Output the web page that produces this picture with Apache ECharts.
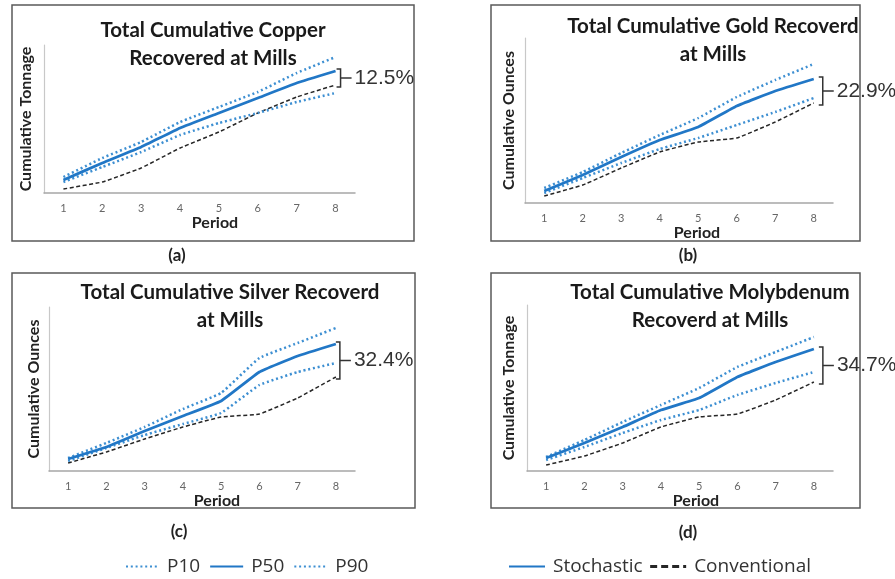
<!DOCTYPE html>
<html><head><meta charset="utf-8">
<script src="https://cdn.jsdelivr.net/npm/echarts@6/dist/echarts.min.js"></script>
<style>html,body{margin:0;padding:0;background:#fff}#c{width:895px;height:579px}</style>
</head><body><div id="c"></div>
<script>
// ---------- data ----------
const periods = ['1', '2', '3', '4', '5', '6', '7', '8'];

const copperP10  = [11, 26, 41, 58, 70, 80, 91, 100];
const copperP50  = [13, 30, 46, 65, 80, 95, 110, 122];
const copperP90  = [16, 35, 51, 71, 86, 101, 120, 136];
const copperConv = [4, 11, 25, 45, 61, 80, 96, 108];

const goldP10  = [10, 25, 40, 54, 65, 78, 91, 105];
const goldP50  = [12, 28, 46, 63, 76, 97, 112, 124];
const goldP90  = [15, 31, 50, 68, 85, 106, 123, 139];
const goldConv = [7, 18, 35, 51, 61, 65, 81, 100];

const silverP10  = [10, 23, 36, 47, 58, 86, 99, 108];
const silverP50  = [12, 24, 40, 55, 70, 99, 115, 127];
const silverP90  = [13, 28, 44, 62, 78, 113, 128, 143];
const silverConv = [8, 19, 32, 44, 54, 57, 73, 94];

const molyP10  = [11, 24, 38, 51, 61, 76, 88, 99];
const molyP50  = [13, 28, 44, 61, 73, 94, 109, 122];
const molyP90  = [14, 31, 49, 66, 83, 104, 119, 134];
const molyConv = [6, 15, 28, 44, 54, 57, 71, 89];

const panelTitles = [
  'Total Cumulative Copper\nRecovered at Mills',
  'Total Cumulative Gold Recoverd\nat Mills',
  'Total Cumulative Silver Recoverd\nat Mills',
  'Total Cumulative Molybdenum\nRecoverd at Mills'
];
const yAxisNames = ['Cumulative Tonnage', 'Cumulative Ounces', 'Cumulative Ounces', 'Cumulative Tonnage'];
const xAxisName = 'Period';
const gapLabels = ['12.5%', '22.9%', '32.4%', '34.7%'];
const captions = ['(a)', '(b)', '(c)', '(d)'];
const legendLeftNames = ['P10', 'P50', 'P90'];
const legendRightNames = ['Stochastic', 'Conventional'];

const panels = [
  { p10: copperP10, p50: copperP50, p90: copperP90, conv: copperConv },
  { p10: goldP10, p50: goldP50, p90: goldP90, conv: goldConv },
  { p10: silverP10, p50: silverP50, p90: silverP90, conv: silverConv },
  { p10: molyP10, p50: molyP50, p90: molyP90, conv: molyConv }
];

// ---------- layout ----------
const gridPos = [
  { left: 44, top: 45, width: 311, height: 148 },
  { left: 525, top: 38, width: 308, height: 165 },
  { left: 49, top: 307, width: 306, height: 164 },
  { left: 527, top: 305, width: 306, height: 166 }
];
const yMax = [148, 165, 164, 166];
const xNameGap = [22, 17, 19, 19];
const xNameShift = [31, 36, 30, 32];
const yNameGap = [10, 8, 7, 10];
const titleCenter = [213, 713, 230, 710];
const titleTop = [16, 12, 278, 278];
const boxRects = [[12, 5, 402, 236], [491, 5, 369, 236], [12, 273, 403, 235], [491, 273, 369, 235]];
const captionPos = [[177, 256], [688, 256], [179, 532], [688, 533]];
const bracketOffset = [5, 9, 4, 9];

const BLUE = '#2177c6';
const DOT_BLUE = '#3d8fd2';
const DARK = '#262626';
const FONT = 'Lato, "Open Sans", sans-serif';

const chart = echarts.init(document.getElementById('c'), null, { renderer: 'canvas' });

const grids = [], xAxes = [], yAxes = [], titles = [], series = [];
panels.forEach((p, i) => {
  grids.push(Object.assign({ containLabel: false }, gridPos[i]));
  xAxes.push({
    type: 'category', gridIndex: i, data: periods, boundaryGap: true,
    axisLine: { show: true, lineStyle: { color: '#a6a6a6', width: 1.5 } },
    axisTick: { show: false },
    axisLabel: { color: '#666', fontSize: 11, fontFamily: FONT, margin: 10 },
    name: xAxisName, nameLocation: 'middle', nameGap: xNameGap[i],
    nameTextStyle: { fontFamily: FONT, fontWeight: 'bold', fontSize: 16, color: '#222', padding: [0, 0, 0, xNameShift[i]] }
  });
  yAxes.push({
    type: 'value', gridIndex: i, min: 0, max: yMax[i],
    axisLine: { show: true, lineStyle: { color: '#c8c8c8', width: 1.2 } },
    axisTick: { show: false }, axisLabel: { show: false }, splitLine: { show: false },
    name: yAxisNames[i], nameLocation: 'middle', nameGap: yNameGap[i],
    nameTextStyle: { fontFamily: FONT, fontWeight: 'bold', fontSize: 16, color: '#222' }
  });
  titles.push({
    text: panelTitles[i], left: titleCenter[i], top: titleTop[i], textAlign: 'center', padding: 0,
    textStyle: { fontFamily: FONT, fontWeight: 'bold', fontSize: 20.5, lineHeight: 28, color: '#1a1a1a' }
  });
  const common = { type: 'line', xAxisIndex: i, yAxisIndex: i, symbol: 'none', smooth: 0.1, silent: true };
  series.push(Object.assign({}, common, { name: 'Conventional', data: p.conv, z: 2,
    itemStyle: { color: DARK }, lineStyle: { color: DARK, width: 1.5, type: [4, 2.5] } }));
  series.push(Object.assign({}, common, { name: 'P10', data: p.p10, z: 3,
    itemStyle: { color: DOT_BLUE }, lineStyle: { color: DOT_BLUE, width: 2.5, type: [2, 2.8] } }));
  series.push(Object.assign({}, common, { name: 'P90', data: p.p90, z: 3,
    itemStyle: { color: DOT_BLUE }, lineStyle: { color: DOT_BLUE, width: 2.5, type: [2, 2.8] } }));
  series.push(Object.assign({}, common, { name: 'P50', data: p.p50, z: 4,
    itemStyle: { color: BLUE }, lineStyle: { color: BLUE, width: 2.8 } }));
});
// legend-only entry for the stochastic style
series.push({ type: 'line', name: 'Stochastic', xAxisIndex: 0, yAxisIndex: 0, symbol: 'none', data: [],
  itemStyle: { color: BLUE }, lineStyle: { color: BLUE, width: 2.8 } });

const legendText = { fontFamily: '"Open Sans", sans-serif', fontSize: 19, color: '#333', padding: [0, 0, 0, 3] };
const legendCommon = { top: 552, itemHeight: 14, itemGap: 9, selectedMode: false, textStyle: legendText,
  itemStyle: { opacity: 0 } };
const option = {
  animation: false,
  backgroundColor: '#fff',
  title: titles,
  grid: grids,
  xAxis: xAxes,
  yAxis: yAxes,
  legend: [
    Object.assign({ data: legendLeftNames, left: 120, itemWidth: 33 }, legendCommon),
    Object.assign({
      data: [
        { name: legendRightNames[0] },
        { name: legendRightNames[1], lineStyle: { width: 3, type: [7, 4] } }
      ],
      left: 503, itemWidth: 36, itemGap: 6
    }, legendCommon, { itemGap: 6 })
  ],
  series: series
};
chart.setOption(option);

// ---------- annotations (boxes, captions, gap brackets) ----------
const graphics = [];
boxRects.forEach((r, i) => {
  graphics.push({ type: 'rect', silent: true, z: 0,
    shape: { x: r[0], y: r[1], width: r[2], height: r[3] },
    style: { fill: 'none', stroke: '#5a5a5a', lineWidth: 1.5 } });
  graphics.push({ type: 'text', silent: true, x: captionPos[i][0], y: captionPos[i][1],
    style: { text: captions[i], fontFamily: FONT, fontWeight: 'bold', fontSize: 17, fill: '#222',
      textAlign: 'center', textVerticalAlign: 'middle' } });
});
panels.forEach((p, i) => {
  const last = periods.length - 1;
  const a = chart.convertToPixel({ gridIndex: i }, [last, p.p50[last]]);
  const b = chart.convertToPixel({ gridIndex: i }, [last, p.conv[last]]);
  const x = a[0] + bracketOffset[i];
  const top = Math.min(a[1], b[1]) - 2;
  const bot = Math.max(a[1], b[1]) + 2;
  const mid = (top + bot) / 2;
  graphics.push({ type: 'polyline', silent: true,
    shape: { points: [[x - 4, top], [x, top], [x, bot], [x - 4, bot]] },
    style: { stroke: '#333', lineWidth: 1.5, fill: 'none' } });
  graphics.push({ type: 'line', silent: true,
    shape: { x1: x, y1: mid, x2: x + 11, y2: mid },
    style: { stroke: '#333', lineWidth: 1.5 } });
  graphics.push({ type: 'text', silent: true, x: x + 14, y: mid,
    style: { text: gapLabels[i], fontFamily: '"Liberation Sans", Arial, sans-serif', fontSize: 21,
      fill: '#333', textAlign: 'left', textVerticalAlign: 'middle' } });
});
chart.setOption({ graphic: graphics });
</script>
</body></html>
